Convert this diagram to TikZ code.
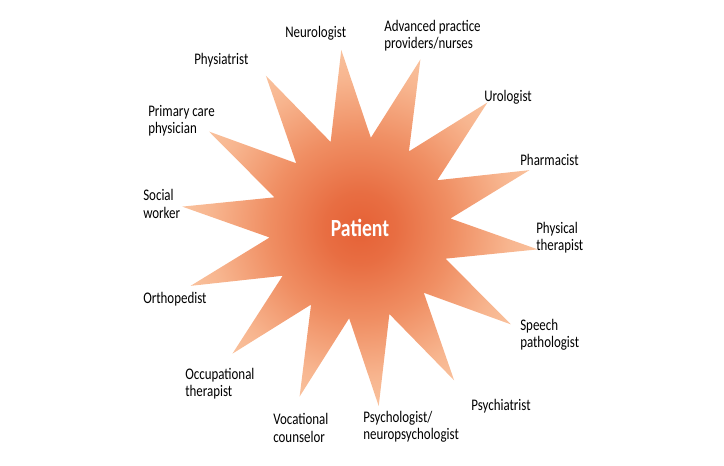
\documentclass[tikz,border=0pt]{standalone}
\usepackage{fontspec}
\setmainfont{Carlito}[FakeStretch=0.8]
\usetikzlibrary{shapes.geometric}
\pgfdeclareradialshading{patientglow}{\pgfpoint{0bp}{0bp}}{rgb(0bp)=(0.90,0.38,0.21); rgb(5bp)=(0.91,0.43,0.26); rgb(13bp)=(0.94,0.56,0.39); rgb(21bp)=(0.97,0.71,0.56); rgb(28bp)=(0.98,0.79,0.65); rgb(50bp)=(0.98,0.80,0.66)}

\begin{document}
\begin{tikzpicture}[x=0.025cm, y=-0.025cm,
    role/.style={anchor=west, inner sep=0pt, align=left, text=black,
      font=\fontsize{11.5pt}{12.2pt}\selectfont}]
        \useasboundingbox (0,0) rectangle (724,466);

        % Patient star
        \node[star, star points=14, star point ratio=1.97, minimum size=8.95cm,
          shape border rotate=6, inner sep=0pt, shade, shading=patientglow,
          text=white, font=\fontsize{17.5pt}{20pt}\selectfont\bfseries] (patient) at (360,228) {Patient};

        % Care team
        \node[role] (neurologist) at (285,33) {Neurologist};
        \node[role] (advanced) at (384,36) {Advanced practice\\providers/nurses};
        \node[role] (urologist) at (484,97) {Urologist};
        \node[role] (pharmacist) at (520,160) {Pharmacist};
        \node[role] (physical) at (536,238) {Physical\\therapist};
        \node[role] (speech) at (520,335) {Speech\\pathologist};
        \node[role] (psychiatrist) at (471,406) {Psychiatrist};
        \node[role] (psychologist) at (363,427) {Psychologist/\\neuropsychologist};
        \node[role] (vocational) at (273,428) {Vocational\\counselor};
        \node[role] (occupational) at (185,384) {Occupational\\therapist};
        \node[role] (orthopedist) at (143,299) {Orthopedist};
        \node[role] (social) at (143,204) {Social\\worker};
        \node[role] (primary) at (148,121) {Primary care\\physician};
        \node[role] (physiatrist) at (194,60) {Physiatrist};

      \end{tikzpicture}
\end{document}
